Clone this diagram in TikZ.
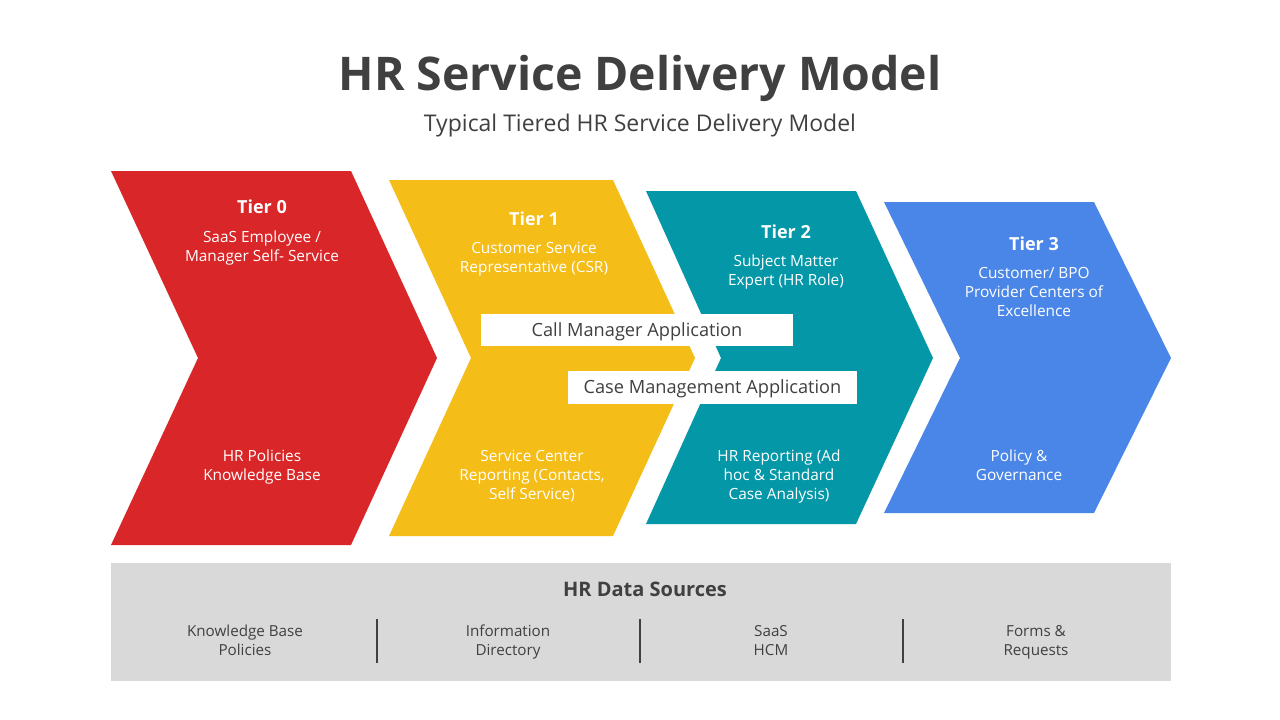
\documentclass[tikz,border=0pt]{standalone}
\usepackage{fontspec}
\setmainfont{Open Sans}
\definecolor{cred}{HTML}{D92628}
\definecolor{cyellow}{HTML}{F5BD17}
\definecolor{cteal}{HTML}{0397A7}
\definecolor{cblue}{HTML}{4A86E8}
\definecolor{cgray}{HTML}{D9D9D9}
\definecolor{cdark}{HTML}{404040}
\begin{document}
\begin{tikzpicture}[x=1pt,y=-1pt,
  tiertitle/.style={text=white,font=\fontsize{18}{20}\selectfont\bfseries,anchor=base,inner sep=0pt},
  tiertext/.style={text=white,font=\fontsize{15.4}{19}\selectfont,align=center,anchor=base,inner sep=0pt},
  appbox/.style={fill=white,text=cdark,font=\fontsize{18.2}{20}\selectfont,inner sep=0pt,text height=16pt,text depth=3pt},
  srctext/.style={text=cdark,font=\fontsize{15.2}{19}\selectfont,align=center,anchor=base,inner sep=0pt},
  divider/.style={draw=cdark,line width=1.6pt}]
\useasboundingbox (0,0) rectangle (1280,720);
\fill[white] (0,0) rectangle (1280,720);
% title
\node[text=cdark,font=\fontsize{46.4}{50}\selectfont\bfseries,inner sep=0pt,anchor=base] (title) at (640,90) {HR Service Delivery Model};
\node[text=cdark,font=\fontsize{23}{25}\selectfont,inner sep=0pt,anchor=base] (subtitle) at (640,131) {Typical Tiered HR Service Delivery Model};
% chevrons
\fill[cred] (111,171) -- (351,171) -- (437,358) -- (351,545) -- (111,545) -- (198,358) -- cycle;
\fill[cyellow] (389,180) -- (613,180) -- (695,358) -- (613,536) -- (389,536) -- (471,358) -- cycle;
\fill[cteal] (646,191) -- (856,191) -- (933,358) -- (856,524) -- (646,524) -- (721,358) -- cycle;
\fill[cblue] (884,202) -- (1094,202) -- (1171,358) -- (1094,513) -- (884,513) -- (960,358) -- cycle;
% tier 0 (multi-line nodes: base = baseline of last line)
\node[tiertitle] (t0) at (262,213.5) {Tier 0};
\node[tiertext] (t0a) at (262,261.5) {SaaS Employee /\\Manager Self- Service};
\node[tiertext] (t0b) at (262,480.5) {HR Policies\\Knowledge Base};
% tier 1
\node[tiertitle] (t1) at (534,225.5) {Tier 1};
\node[tiertext] (t1a) at (534,272.5) {Customer Service\\Representative (CSR)};
\node[tiertext] (t1b) at (532,499.5) {Service Center\\Reporting (Contacts,\\Self Service)};
% tier 2
\node[tiertitle] (t2) at (786,238.5) {Tier 2};
\node[tiertext] (t2a) at (786,285.5) {Subject Matter\\Expert (HR Role)};
\node[tiertext] (t2b) at (779,499.5) {HR Reporting (Ad\\hoc \& Standard\\Case Analysis)};
% tier 3
\node[tiertitle] (t3) at (1034,250.5) {Tier 3};
\node[tiertext] (t3a) at (1034,316.5) {Customer/ BPO\\Provider Centers of\\Excellence};
\node[tiertext] (t3b) at (1019,480.5) {Policy \&\\Governance};
% application boxes
\node[appbox,minimum width=312pt,minimum height=32pt] (callmgr) at (637,329.5) {Call Manager Application};
\node[appbox,minimum width=289pt,minimum height=33pt] (casemgmt) at (712.5,387) {Case Management Application};
% data sources
\fill[cgray] (111,563) rectangle (1171,681);
\node[text=cdark,font=\fontsize{20}{22}\selectfont\bfseries,inner sep=0pt,anchor=base] (hrds) at (645,596.5) {HR Data Sources};
\node[srctext] (s1) at (245,655.5) {Knowledge Base\\Policies};
\node[srctext] (s2) at (508,655.5) {Information\\Directory};
\node[srctext] (s3) at (771,655.5) {SaaS\\HCM};
\node[srctext] (s4) at (1036,655.5) {Forms \&\\Requests};
\coordinate (d1a) at (377,619); \coordinate (d1b) at (377,663);
\coordinate (d2a) at (640,619); \coordinate (d2b) at (640,663);
\coordinate (d3a) at (903,619); \coordinate (d3b) at (903,663);
\draw[divider] (d1a) -- (d1b);
\draw[divider] (d2a) -- (d2b);
\draw[divider] (d3a) -- (d3b);
\end{tikzpicture}
\end{document}
